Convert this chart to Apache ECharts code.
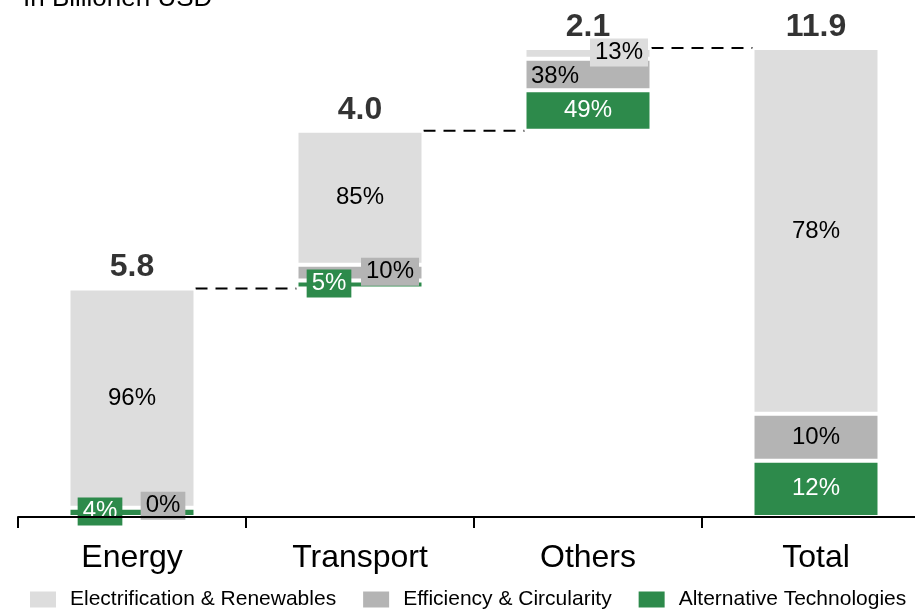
<!DOCTYPE html>
<html>
<head>
<meta charset="utf-8">
<script src="https://cdn.jsdelivr.net/npm/echarts@6/dist/echarts.min.js"></script>
<style>
  html, body { margin: 0; padding: 0; background: #fff; }
  #main { width: 915px; height: 610px; }
</style>
</head>
<body>
<div id="main"></div>
<script>
var categories = ['Energy', 'Transport', 'Others', 'Total'];
var totals = [5.8, 4.0, 2.1, 11.9];
// shares of each bar in %
var electrificationShare = [96, 85, 13, 78];
var efficiencyShare = [0, 10, 38, 10];
var alternativeShare = [4, 5, 49, 12];

var chart = echarts.init(document.getElementById('main'));

var colLight = '#DDDDDD';
var colGrey = '#B4B4B4';
var colGreen = '#2D8A4B';
var barW = 127;

// waterfall bases: running sum, total bar starts at 0
var bases = [];
var run = 0;
for (var i = 0; i < totals.length; i++) {
    if (i === totals.length - 1) {
        bases.push(0);
    } else {
        bases.push(run);
        run = +(run + totals[i]).toFixed(2);
    }
}
var tops = totals.map(function (t, i) { return +(bases[i] + t).toFixed(2); });

// labels of small segments are moved aside into a box
var moved = {
    alt: { 0: [-32, -1], 1: [-31, -1] },
    eff: { 0: [31, -2], 1: [30, -1], 2: [-33, 2] },
    ele: { 2: [31, -1] }
};
var boxed = { alt: { 0: 1, 1: 1 }, eff: { 0: 1, 1: 1 }, ele: { 2: 1 } };

function segSeries(key, name, shares, color, textColor) {
    return {
        name: name,
        type: 'bar',
        stack: 'wf',
        barWidth: barW,
        itemStyle: { color: color, borderColor: '#fff', borderWidth: 2 },
        data: shares.map(function (s, i) {
            var item = { value: +(totals[i] * s / 100).toFixed(4) };
            var lab = {
                show: true,
                position: 'inside',
                formatter: s + '%',
                color: textColor,
                fontSize: 24
            };
            if (moved[key][i]) lab.offset = moved[key][i];
            if (boxed[key][i]) {
                lab.backgroundColor = color;
                lab.padding = [3, 5, 1, 5];
            }
            item.label = lab;
            return item;
        })
    };
}

var option = {
    animation: false,
    textStyle: { fontFamily: 'Liberation Sans, Arial, sans-serif' },
    title: {
        text: 'In Billionen USD',
        left: 18,
        top: -19,
        textStyle: { fontSize: 26, fontWeight: 'normal', color: '#000' }
    },
    legend: {
        left: 28,
        top: 589,
        padding: 0,
        itemWidth: 28,
        itemHeight: 18,
        itemGap: 25,
        icon: 'rect',
        textStyle: { fontSize: 21, color: '#000', padding: [0, 0, 0, 8] },
        data: ['Electrification & Renewables', 'Efficiency & Circularity', 'Alternative Technologies']
    },
    grid: { left: 18, width: 912, top: 48, bottom: 93, outerBoundsMode: 'none', containLabel: false },
    xAxis: {
        type: 'category',
        data: categories,
        z: 10,
        axisLine: { lineStyle: { color: '#000', width: 2 } },
        axisTick: { show: true, length: 11, lineStyle: { color: '#000', width: 2 } },
        axisLabel: { fontSize: 32, color: '#000', margin: 25 }
    },
    yAxis: {
        type: 'value',
        min: 0,
        max: 11.9,
        show: false
    },
    series: [
        {
            name: 'base',
            type: 'bar',
            stack: 'wf',
            barWidth: barW,
            silent: true,
            itemStyle: { color: 'rgba(0,0,0,0)' },
            data: bases
        },
        segSeries('alt', 'Alternative Technologies', alternativeShare, colGreen, '#fff'),
        segSeries('eff', 'Efficiency & Circularity', efficiencyShare, colGrey, '#000'),
        segSeries('ele', 'Electrification & Renewables', electrificationShare, colLight, '#000'),
        {
            name: 'totals',
            type: 'scatter',
            symbolSize: 0,
            silent: true,
            label: {
                show: true,
                position: 'top',
                distance: 5,
                fontSize: 32,
                fontWeight: 'bold',
                color: '#000',
                formatter: function (p) { return totals[p.dataIndex].toFixed(1); }
            },
            data: tops
        },
        {
            name: 'connectors',
            type: 'custom',
            silent: true,
            renderItem: function (params, api) {
                var p = api.coord([api.value(0), api.value(1)]);
                var band = api.size([1, 0])[0];
                return {
                    type: 'line',
                    shape: { x1: p[0] + barW / 2, y1: p[1], x2: p[0] + band - barW / 2, y2: p[1] },
                    style: { stroke: '#000', lineWidth: 2, lineDash: [12, 8] }
                };
            },
            data: tops.slice(0, tops.length - 1).map(function (t, i) { return [i, t]; })
        }
    ]
};

chart.setOption(option);
</script>
</body>
</html>
